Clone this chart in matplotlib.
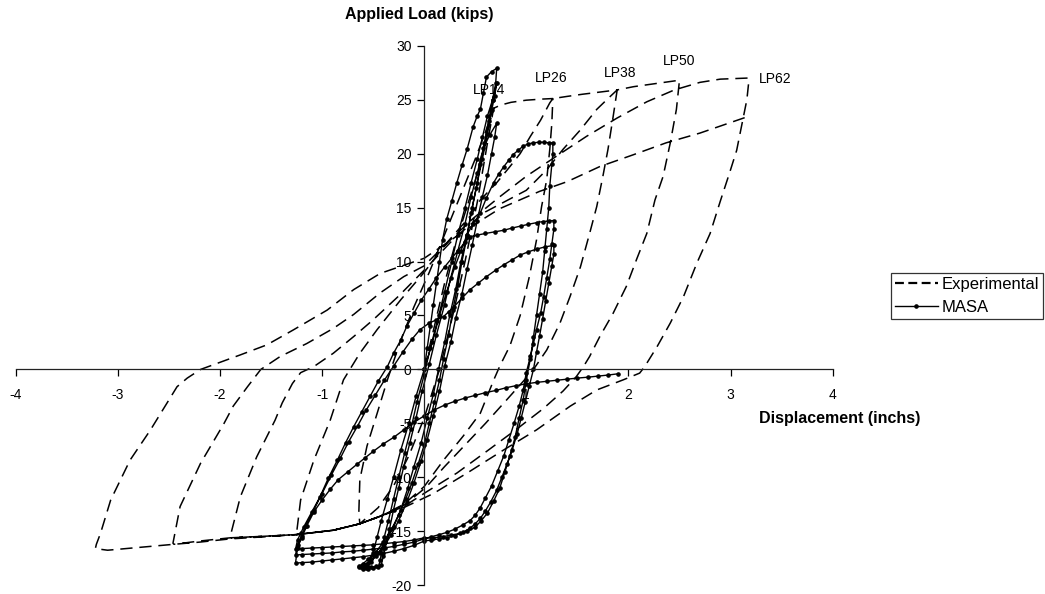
import numpy as np
import matplotlib
matplotlib.use("Agg")
import matplotlib.pyplot as plt
from matplotlib.lines import Line2D

plt.rcParams['font.family'] = ['Liberation Sans', 'DejaVu Sans']

# ---------------- data ----------------
# Experimental path, as (displacement in, load kips) points, branch by branch
exp_load_lp14 = [(0, 0), (0.1, 4), (0.2, 8), (0.3, 11.5), (0.4, 14.5), (0.5, 17.5), (0.58, 20.5), (0.64, 22.8), (0.68, 24.2)]
exp_unload_lp14 = [(0.62, 21), (0.52, 15.5), (0.4, 10), (0.28, 5), (0.15, 0), (0.0, -4.5), (-0.15, -8), (-0.3, -10.8), (-0.45, -12.8), (-0.63, -14.3)]
exp_reload_1 = [(-0.64, -13.3), (-0.63, -10.2), (-0.56, -7.1), (-0.46, -4.05), (-0.36, -0.96), (-0.23, 2.7), (-0.10, 5.8),
                (0.05, 9), (0.2, 12.5), (0.35, 16), (0.5, 19.5), (0.6, 22), (0.68, 24.2),
                (0.75, 24.5), (0.85, 24.75), (1.0, 24.95), (1.15, 25.05), (1.26, 25.1)]
exp_unload_lp26 = [(1.25, 22.8), (1.23, 20.4), (1.20, 17.6), (1.15, 15.1), (1.10, 12.0), (1.03, 8.6), (0.94, 5.0), (0.84, 2.2),
                   (0.74, 0.3), (0.68, -1.0), (0.55, -4.05), (0.38, -6.2), (0.19, -8.4), (0.0, -10.85), (-0.2, -12.5),
                   (-0.43, -13.6), (-0.63, -14.3), (-0.89, -14.9), (-1.25, -15.3)]
exp_reload_2 = [(-1.25, -15.2), (-1.21, -12.1), (-1.08, -8.4), (-0.92, -4.7), (-0.79, -0.96), (-0.63, 1.5), (-0.46, 3.7),
                (-0.23, 6.45), (0.0, 9.0), (0.2, 11.5), (0.45, 14.2), (0.55, 15.7), (0.71, 17.3), (0.84, 18.8), (0.94, 20.0),
                (1.04, 21.6), (1.14, 23.1), (1.23, 24.7), (1.26, 25.1), (1.4, 25.3), (1.55, 25.5), (1.72, 25.7), (1.89, 25.9)]
exp_unload_lp38 = [(1.85, 23.4), (1.80, 20.4), (1.75, 17.9), (1.69, 15.1), (1.62, 12.6), (1.53, 9.5), (1.43, 6.8), (1.33, 4.3),
                   (1.20, 1.8), (1.07, 0), (0.97, -1.1), (0.8, -2.9), (0.6, -5.0), (0.4, -7.0), (0.2, -9.0), (0.02, -10.9),
                   (-0.2, -12.6), (-0.43, -13.6), (-0.63, -14.3), (-0.89, -14.9), (-1.25, -15.3), (-1.55, -15.45), (-1.9, -15.6)]
exp_reload_3 = [(-1.90, -15.5), (-1.80, -11.8), (-1.64, -8.1), (-1.46, -4.7), (-1.39, -3.1), (-1.29, -1.3), (-1.21, -0.3),
                (-1.08, 0.27), (-0.89, 1.5), (-0.69, 3.05), (-0.50, 4.6), (-0.25, 6.8), (0.0, 9.2), (0.3, 12.2), (0.6, 14.6),
                (1.0, 16.6), (1.20, 18.5), (1.36, 20.4), (1.53, 22.2), (1.69, 24.1), (1.80, 25.1), (1.89, 25.9),
                (2.05, 26.2), (2.2, 26.4), (2.35, 26.6), (2.5, 26.8)]
exp_unload_lp50 = [(2.47, 24.1), (2.41, 21.0), (2.34, 17.9), (2.26, 15.7), (2.18, 12.6), (2.08, 10.2), (1.98, 7.7), (1.85, 5.2),
                   (1.72, 3.05), (1.62, 1.2), (1.56, 0.27), (1.49, -0.66), (1.36, -2.0), (1.17, -3.6), (0.91, -5.5), (0.61, -7.6),
                   (0.32, -9.6), (0.03, -11.3), (-0.2, -12.7), (-0.43, -13.6), (-0.63, -14.3), (-0.89, -14.9), (-1.25, -15.3),
                   (-1.55, -15.45), (-1.9, -15.6), (-2.2, -15.9), (-2.45, -16.2)]
exp_reload_4 = [(-2.46, -16.1), (-2.39, -12.7), (-2.19, -8.7), (-1.96, -5.0), (-1.87, -3.4), (-1.73, -1.6), (-1.60, 0),
                (-1.41, 1.2), (-1.15, 2.4), (-0.89, 3.8), (-0.69, 5.1), (-0.43, 7.1), (-0.2, 8.6), (0.0, 9.6), (0.2, 11.5),
                (0.48, 14.0), (0.74, 16.0), (1.00, 17.9), (1.27, 19.6), (1.59, 21.6), (1.89, 23.3), (2.18, 24.8), (2.45, 25.9),
                (2.70, 26.6), (2.90, 26.9), (3.17, 27.0)]
exp_unload_lp62 = [(3.18, 26.8), (3.16, 25.0), (3.12, 23.1), (3.06, 20.3), (2.99, 18.2), (2.90, 15.6), (2.80, 12.6), (2.67, 9.85),
                   (2.54, 6.76), (2.41, 4.3), (2.28, 2.1), (2.16, 0.27), (2.11, -0.34), (1.95, -0.96), (1.69, -1.9), (1.43, -3.4),
                   (1.10, -5.6), (0.78, -7.45), (0.42, -9.6), (0.09, -11.5), (-0.2, -12.8), (-0.43, -13.6), (-0.63, -14.3),
                   (-0.89, -14.9), (-1.25, -15.3), (-1.55, -15.5), (-1.9, -15.7), (-2.2, -16.0), (-2.45, -16.2), (-2.8, -16.5),
                   (-3.1, -16.75), (-3.22, -16.6)]
exp_reload_5 = [(-3.21, -16.2), (-3.17, -15.2), (-3.07, -12.1), (-2.88, -8.4), (-2.68, -5.6), (-2.42, -1.6), (-2.32, -0.8),
                (-2.19, 0), (-1.80, 1.35), (-1.54, 2.28), (-1.28, 3.67), (-0.95, 5.5), (-0.69, 7.4), (-0.43, 8.9), (0.0, 10.3),
                (0.42, 13.0), (0.74, 14.9), (1.13, 16.5), (1.40, 17.4), (1.72, 18.8), (2.05, 19.9), (2.37, 21.0), (2.70, 21.9),
                (3.16, 23.4)]

# MASA analytical path, branch by branch
masa_load_1 = [(0, 0), (0.03, 2), (0.06, 4), (0.09, 6), (0.12, 8), (0.15, 10), (0.18, 12), (0.22, 13.9), (0.27, 15.6),
               (0.32, 17.3), (0.37, 18.9), (0.42, 20.4), (0.48, 22.5), (0.52, 23.5), (0.55, 24.1), (0.58, 25.6), (0.61, 27.1),
               (0.66, 27.6), (0.71, 27.9)]
masa_unload_1 = [(0.70, 26.5), (0.67, 25), (0.63, 23), (0.59, 21), (0.55, 19), (0.51, 16.8), (0.46, 14.5), (0.42, 12.3),
                 (0.37, 10), (0.33, 7.8), (0.28, 5.5), (0.24, 3.2), (0.19, 1), (0.15, -1), (0.1, -3), (0.05, -5), (0.0, -7),
                 (-0.06, -8.8), (-0.12, -10.5), (-0.18, -12), (-0.25, -13.5), (-0.32, -14.8), (-0.4, -16), (-0.47, -16.9),
                 (-0.55, -17.6), (-0.6, -18.0), (-0.64, -18.3), (-0.6, -18.45), (-0.55, -18.45), (-0.5, -18.4), (-0.45, -18.3)]
masa_reload_1 = [(-0.43, -17.7), (-0.42, -17), (-0.39, -15.5), (-0.35, -14), (-0.3, -12), (-0.25, -10), (-0.19, -7.7),
                 (-0.13, -5.5), (-0.07, -3), (0.0, -0.5), (0.06, 2), (0.13, 4.5), (0.2, 7.2), (0.27, 10), (0.33, 12.5),
                 (0.4, 15), (0.46, 17.3), (0.52, 19.5), (0.57, 21.5), (0.62, 23.5), (0.67, 25), (0.71, 26.5)]
masa_unload_2 = [(0.69, 25.3), (0.66, 24), (0.62, 21.8), (0.57, 19.5), (0.52, 17.3), (0.47, 15), (0.42, 12.5), (0.36, 10),
                 (0.31, 7.5), (0.25, 5), (0.2, 2.5), (0.14, 0), (0.09, -2.3), (0.03, -4.5), (-0.03, -6.8), (-0.1, -9),
                 (-0.16, -11), (-0.23, -13), (-0.3, -14.6), (-0.38, -16), (-0.45, -17), (-0.52, -17.8), (-0.57, -18.1),
                 (-0.62, -18.3), (-0.57, -18.4), (-0.52, -18.35), (-0.47, -18.25), (-0.42, -18.1)]
masa_reload_2 = [(-0.40, -17.3), (-0.38, -16.5), (-0.34, -14.8), (-0.3, -13), (-0.25, -11), (-0.2, -9), (-0.14, -6.8),
                 (-0.08, -4.5), (-0.02, -2), (0.05, 0.5), (0.12, 3.2), (0.2, 6), (0.26, 8.5), (0.33, 11), (0.4, 13.5),
                 (0.46, 16), (0.52, 18.2), (0.58, 20.5), (0.64, 21.7), (0.71, 22.8)]
masa_unload_3 = [(0.69, 21.5), (0.66, 20), (0.62, 18), (0.57, 16), (0.52, 13.8), (0.47, 11.5), (0.42, 9.3), (0.37, 7),
                 (0.31, 4.8), (0.26, 2.5), (0.2, 0.3), (0.15, -2), (0.09, -4.3), (0.03, -6.5), (-0.03, -8.5), (-0.1, -10.5),
                 (-0.17, -12.3), (-0.25, -14), (-0.32, -15.3), (-0.4, -16.5), (-0.47, -17.3), (-0.55, -17.9), (-0.6, -18.1),
                 (-0.64, -18.2), (-0.6, -18.35), (-0.55, -18.3)]
masa_reload_3 = [(-0.52, -17.6), (-0.5, -17), (-0.46, -15.5), (-0.42, -14), (-0.36, -12), (-0.3, -10), (-0.23, -7.5),
                 (-0.15, -5), (-0.08, -2.5), (0.0, 0), (0.08, 2.5), (0.15, 5), (0.22, 7.2), (0.3, 9.5), (0.36, 11),
                 (0.42, 12.5), (0.48, 13.5), (0.55, 14.5), (0.61, 15.9), (0.68, 17.3), (0.73, 18.1), (0.78, 18.8),
                 (0.83, 19.4), (0.87, 19.9), (0.92, 20.3), (0.97, 20.7), (1.02, 20.9), (1.07, 21.0), (1.12, 21.05),
                 (1.17, 21.05), (1.22, 21.0), (1.26, 21.0)]
masa_unload_4 = [(1.26, 20), (1.25, 19), (1.23, 17), (1.22, 15), (1.2, 13), (1.18, 11), (1.16, 9), (1.13, 7), (1.1, 5),
                 (1.07, 3), (1.04, 1), (1.0, -1), (0.97, -2.8), (0.93, -4.5), (0.89, -6.3), (0.84, -8), (0.79, -9.5),
                 (0.74, -11), (0.68, -12.2), (0.62, -13.3), (0.56, -14), (0.5, -14.6), (0.42, -15.0), (0.35, -15.2),
                 (0.26, -15.35), (0.18, -15.5), (0.09, -15.6), (0.0, -15.6), (-0.1, -15.8), (-0.2, -15.95), (-0.3, -16.05),
                 (-0.4, -16.15), (-0.5, -16.25), (-0.6, -16.3), (-0.7, -16.35), (-0.8, -16.4), (-0.9, -16.45),
                 (-1.0, -16.5), (-1.1, -16.55), (-1.2, -16.6), (-1.26, -16.65)]
masa_reload_4 = [(-1.24, -15.8), (-1.21, -15.2), (-1.18, -14.6), (-1.10, -13.2), (-1.02, -11.8), (-0.94, -10.1), (-0.85, -8.4),
                 (-0.77, -6.8), (-0.69, -5.3), (-0.61, -3.9), (-0.53, -2.5), (-0.45, -1.1), (-0.36, 0.27), (-0.30, 1.5),
                 (-0.23, 2.7), (-0.17, 4), (-0.10, 5.2), (-0.03, 6.4), (0.05, 7.5), (0.12, 8.5), (0.2, 9.5), (0.27, 10.3),
                 (0.33, 11), (0.40, 11.8), (0.45, 12.3), (0.52, 12.45), (0.6, 12.6), (0.69, 12.75), (0.78, 12.9),
                 (0.86, 13.1), (0.95, 13.3), (1.02, 13.45), (1.10, 13.6), (1.16, 13.7), (1.22, 13.75), (1.27, 13.8)]
masa_unload_5 = [(1.27, 13), (1.25, 11.6), (1.23, 10.2), (1.2, 8.5), (1.17, 6.75), (1.14, 5.2), (1.10, 3.7), (1.07, 2.4),
                 (1.04, 1.2), (1.0, -0.3), (0.97, -1.9), (0.93, -3.4), (0.88, -5), (0.83, -6.5), (0.78, -8), (0.72, -9.4),
                 (0.66, -10.8), (0.6, -11.9), (0.55, -12.8), (0.5, -13.5), (0.45, -14.0), (0.38, -14.4), (0.3, -14.8),
                 (0.22, -15.1), (0.15, -15.3), (0.07, -15.5), (0.0, -15.7), (-0.1, -16.0), (-0.2, -16.2), (-0.3, -16.4),
                 (-0.4, -16.55), (-0.5, -16.65), (-0.6, -16.75), (-0.7, -16.85), (-0.8, -16.9), (-0.9, -17.0),
                 (-1.0, -17.05), (-1.1, -17.1), (-1.2, -17.15), (-1.26, -17.2)]
masa_reload_5 = [(-1.24, -16.3), (-1.2, -15.4), (-1.16, -14.5), (-1.08, -13), (-1.0, -11.5), (-0.91, -9.8), (-0.82, -8.2),
                 (-0.74, -6.7), (-0.65, -5.2), (-0.57, -3.8), (-0.48, -2.4), (-0.39, -1), (-0.3, 0.3), (-0.21, 1.6),
                 (-0.12, 2.8), (-0.04, 3.7), (0.05, 4.3), (0.12, 4.6), (0.19, 4.9), (0.24, 5.35), (0.29, 5.8), (0.37, 6.6),
                 (0.45, 7.4), (0.53, 8.0), (0.61, 8.6), (0.7, 9.2), (0.78, 9.7), (0.86, 10.15), (0.94, 10.6), (1.02, 10.9),
                 (1.10, 11.15), (1.18, 11.35), (1.27, 11.5)]
masa_unload_6 = [(1.27, 10.7), (1.25, 9.6), (1.22, 8), (1.19, 6.3), (1.16, 4.7), (1.13, 3.1), (1.10, 1.6), (1.07, 0),
                 (1.03, -1.5), (0.99, -3), (0.95, -4.5), (0.91, -6), (0.86, -7.5), (0.81, -8.8), (0.76, -10), (0.71, -11.2),
                 (0.65, -12.3), (0.6, -13.1), (0.55, -13.8), (0.5, -14.3), (0.45, -14.7), (0.38, -15.1), (0.3, -15.4),
                 (0.22, -15.6), (0.15, -15.7), (0.07, -15.8), (0.0, -15.9), (-0.1, -16.3), (-0.2, -16.6), (-0.3, -16.85),
                 (-0.4, -17.05), (-0.5, -17.2), (-0.6, -17.35), (-0.7, -17.45), (-0.8, -17.55), (-0.9, -17.65),
                 (-1.0, -17.75), (-1.1, -17.85), (-1.2, -17.9), (-1.26, -17.95)]
masa_reload_6 = [(-1.24, -16.5), (-1.2, -15.6), (-1.15, -14.5), (-1.08, -13.2), (-1.0, -12.1), (-0.92, -11.1), (-0.84, -10.2),
                 (-0.75, -9.5), (-0.66, -8.8), (-0.58, -8.2), (-0.5, -7.6), (-0.4, -6.9), (-0.3, -6.3), (-0.2, -5.6),
                 (-0.1, -4.9), (0.0, -4.3), (0.1, -3.75), (0.2, -3.3), (0.3, -2.95), (0.4, -2.65), (0.5, -2.4), (0.6, -2.15),
                 (0.7, -1.95), (0.8, -1.7), (0.9, -1.5), (1.0, -1.33), (1.1, -1.2), (1.2, -1.1), (1.3, -1.0), (1.4, -0.9),
                 (1.5, -0.8), (1.6, -0.72), (1.7, -0.62), (1.8, -0.52), (1.9, -0.4)]

exp_branches = [exp_load_lp14, exp_unload_lp14, exp_reload_1, exp_unload_lp26, exp_reload_2, exp_unload_lp38,
                exp_reload_3, exp_unload_lp50, exp_reload_4, exp_unload_lp62, exp_reload_5]
masa_branches = [masa_load_1, masa_unload_1, masa_reload_1, masa_unload_2, masa_reload_2, masa_unload_3, masa_reload_3,
                 masa_unload_4, masa_reload_4, masa_unload_5, masa_reload_5, masa_unload_6, masa_reload_6]

lp_labels = ["LP14", "LP26", "LP38", "LP50", "LP62"]
lp_disp = [0.48, 1.08, 1.76, 2.34, 3.28]
lp_load = [25.9, 27.0, 27.5, 28.6, 26.9]

x_ticks = [-4, -3, -2, -1, 1, 2, 3, 4]
y_ticks = [-20, -15, -10, -5, 0, 5, 10, 15, 20, 25, 30]


def join(branches):
    pts = [p for b in branches for p in b]
    return [p[0] for p in pts], [p[1] for p in pts]


exp_disp, exp_load = join(exp_branches)
masa_disp, masa_load = join(masa_branches)

# ---------------- figure ----------------
fig = plt.figure(figsize=(10.45, 5.94), dpi=100)
ax = fig.add_axes([0.01502, 0.01465, 0.78178, 0.90845])
ax.set_xlim(-4, 4)
ax.set_ylim(-20, 30)

ax.plot(exp_disp, exp_load, color='black', lw=1.1, linestyle=(0, (8, 4.5)),
        label='Experimental')
ax.plot(masa_disp, masa_load, color='black', lw=1.0, marker='o', ms=2.3,
        label='MASA')

for t, xx, yy in zip(lp_labels, lp_disp, lp_load):
    ax.text(xx, yy, t, fontsize=10, ha='left', va='center')

for s in ['top', 'right']:
    ax.spines[s].set_visible(False)
ax.spines['left'].set_position(('data', 0))
ax.spines['bottom'].set_position(('data', 0))
for s in ['left', 'bottom']:
    ax.spines[s].set_linewidth(0.9)
    ax.spines[s].set_color('#222222')
ax.set_xticks(x_ticks)
ax.set_yticks(y_ticks)
ax.set_xticklabels([str(v) for v in x_ticks])
ax.set_yticklabels([str(v) for v in y_ticks])
ax.tick_params(axis='x', direction='out', length=5, width=0.9, pad=8.5, labelsize=10)
ax.tick_params(axis='y', direction='out', length=5, width=0.9, pad=4, labelsize=10)
ax.patch.set_alpha(0)

fig.text(419 / 1045, 1 - 14 / 594, 'Applied Load (kips)', fontsize=11.5,
         fontweight='bold', ha='center', va='center')
fig.text(840 / 1045, 1 - 418 / 594, 'Displacement (inchs)', fontsize=11.5,
         fontweight='bold', ha='center', va='center')

handles = [Line2D([], [], color='black', lw=1.6, linestyle=(0, (4, 2))),
           Line2D([], [], color='black', lw=1.0, marker='o', ms=2.3)]
leg = fig.legend(handles, ['Experimental', 'MASA'], loc='upper right',
                 bbox_to_anchor=(1043 / 1045, 1 - 272.7 / 594),
                 bbox_transform=fig.transFigure, borderaxespad=0,
                 fontsize=12, frameon=True, fancybox=False, edgecolor='black',
                 handlelength=2.6, handletextpad=0.2, borderpad=0.25,
                 labelspacing=0.5, markerscale=1.0)
leg.get_frame().set_linewidth(0.9)

fig.savefig('out.png', dpi=100)
